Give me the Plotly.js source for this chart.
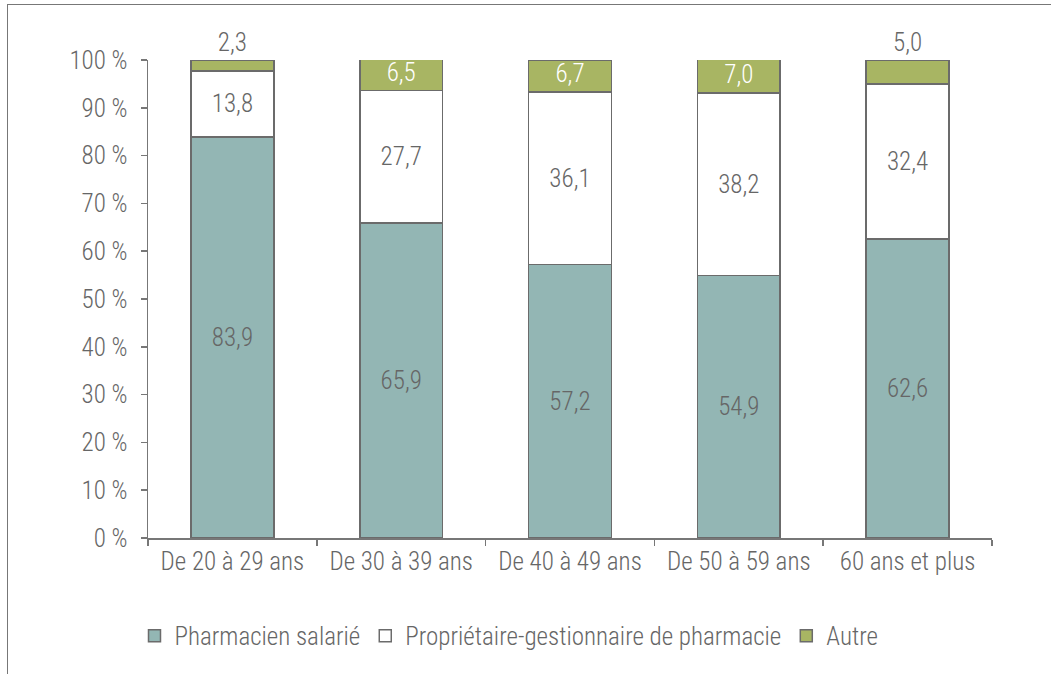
<!DOCTYPE html>
<html>
<head>
<meta charset="utf-8">
<script src="https://cdn.plot.ly/plotly-3.0.1.min.js"></script>
<style>
  html, body { margin: 0; padding: 0; background: #fff; }
  #wrap { position: relative; width: 1051px; height: 674px; }
  #frame { position: absolute; left: 7px; top: 4px; right: 0; bottom: 0;
           border-top: 1.5px solid #777; border-left: 1.5px solid #777; pointer-events: none; }
  #chart { position: absolute; left: 0; top: 0; width: 1051px; height: 674px; }
</style>
</head>
<body>
<div id="wrap">
  <div id="chart"></div>
  <div id="frame"></div>
</div>
<script>
const categories = ["De 20 à 29 ans", "De 30 à 39 ans", "De 40 à 49 ans", "De 50 à 59 ans", "60 ans et plus"];
const salarie = [83.9, 65.9, 57.2, 54.9, 62.6];
const proprietaire = [13.8, 27.7, 36.1, 38.2, 32.4];
const autre = [2.3, 6.5, 6.7, 7.0, 5.0];
const autreInside = [false, true, true, true, false];
const yTickVals = [0, 10, 20, 30, 40, 50, 60, 70, 80, 90, 100];
const yTickText = yTickVals.map(v => v + " %");

const FONT = "'Roboto Condensed', 'Liberation Sans Narrow', 'Arial Narrow', 'DejaVu Sans Condensed', sans-serif";
const GRAY = "#666666";
const FS = 25;
const fmt = v => v.toFixed(1).replace(".", ",");
const lineStyle = { color: "#6b6b6b", width: 1.5 };
const f = (c) => ({ family: FONT, color: c, size: FS, weight: 300 });

// labels drawn inside the thin "Autre" segments, positioned through the axis scale
const insX = [], insY = [], insT = [];
categories.forEach((c, i) => {
  if (autreInside[i]) {
    insX.push(c);
    insY.push(salarie[i] + proprietaire[i] + autre[i] / 2);
    insT.push(fmt(autre[i]));
  }
});

const traces = [
  {
    type: "bar", name: "Pharmacien salarié", x: categories, y: salarie,
    marker: { color: "#93b6b4", line: lineStyle },
    text: salarie.map(fmt), textposition: "inside", insidetextanchor: "middle",
    textangle: 0, constraintext: "none", textfont: f(GRAY),
    hoverinfo: "skip", cliponaxis: false
  },
  {
    type: "bar", name: "Propriétaire-gestionnaire de pharmacie", x: categories, y: proprietaire,
    marker: { color: "#ffffff", line: lineStyle },
    text: proprietaire.map(fmt), textposition: "inside", insidetextanchor: "middle",
    textangle: 0, constraintext: "none", textfont: f(GRAY),
    hoverinfo: "skip", cliponaxis: false
  },
  {
    type: "bar", name: "Autre", x: categories, y: autre,
    marker: { color: "#a8b563", line: lineStyle },
    text: autre.map((v, i) => autreInside[i] ? "" : fmt(v)), textposition: "outside",
    textangle: 0, constraintext: "none", textfont: f(GRAY), outsidetextfont: f(GRAY),
    hoverinfo: "skip", cliponaxis: false
  },
  {
    type: "scatter", mode: "text", x: insX, y: insY, text: insT,
    textposition: "middle center", textfont: f("#ffffff"),
    showlegend: false, hoverinfo: "skip", cliponaxis: false
  }
];

const layout = {
  width: 1051, height: 674,
  margin: { l: 148, r: 59, t: 60, b: 136 },
  barmode: "stack", bargap: 0.51,
  paper_bgcolor: "rgba(0,0,0,0)", plot_bgcolor: "rgba(0,0,0,0)",
  font: f(GRAY),
  showlegend: true,
  legend: {
    orientation: "h", x: -0.016, xanchor: "left", y: -0.205, yanchor: "middle",
    font: f(GRAY), traceorder: "normal", itemwidth: 30
  },
  xaxis: {
    type: "category", tickson: "boundaries", ticks: "outside", ticklen: 6,
    tickcolor: "#777", tickwidth: 1.5, showline: true, linecolor: "#777", linewidth: 1.5,
    showgrid: false, zeroline: false, tickfont: f(GRAY), fixedrange: true
  },
  yaxis: {
    range: [0, 100], tickvals: yTickVals, ticktext: yTickText,
    ticks: "outside", ticklen: 6, tickcolor: "#777", tickwidth: 1.5,
    showline: true, linecolor: "#777", linewidth: 1.5,
    showgrid: false, zeroline: false, ticklabelstandoff: 8,
    tickfont: f(GRAY), fixedrange: true
  }
};

Plotly.newPlot("chart", traces, layout, { displayModeBar: false, staticPlot: true });
</script>
</body>
</html>
